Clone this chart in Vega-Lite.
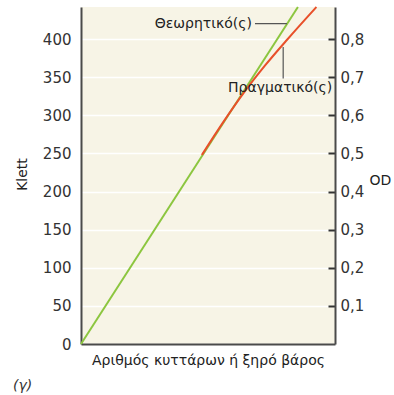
{
  "$schema": "https://vega.github.io/schema/vega-lite/v6.json",
  "autosize": "none",
  "width": 254,
  "height": 337,
  "padding": {"left": 81, "top": 7, "right": 59, "bottom": 51},
  "background": "white",
  "config": {
    "view": {"fill": "#f7f4e6", "stroke": null},
    "font": "DejaVu Sans",
    "axis": {"labelFont": "DejaVu Sans", "titleFont": "DejaVu Sans", "labelFontSize": 15, "titleFontSize": 14, "titleFontWeight": "normal", "labelColor": "#333", "titleColor": "#222", "domainColor": "#4a4a4a", "domainWidth": 2}
  },
  "title": {"text": "(γ)", "orient": "bottom", "anchor": "start", "frame": "group", "fontStyle": "italic", "fontWeight": "normal", "fontSize": 14, "font": "DejaVu Sans", "color": "#333", "dx": -68, "offset": 12},
  "datasets": {
    "theo": [{"n": 0, "klett": 0}, {"n": 85.4, "klett": 442}],
    "real": [{"n": 47.6, "klett": 248}, {"n": 55.8, "klett": 290}, {"n": 64.2, "klett": 330}, {"n": 72.4, "klett": 365}, {"n": 81.4, "klett": 400}, {"n": 92.7, "klett": 442}],
    "od": [{"n": 0, "od": 0}, {"n": 0, "od": 0.884}],
    "labelTheo": [{"n": 67.3, "klett": 419.7, "text": "Θεωρητικό(ς)"}],
    "labelReal": [{"n": 57.9, "klett": 335.7, "text": "Πραγματικό(ς)"}],
    "leaders": [{"n": 68.5, "n2": 81.1, "klett": 420.3, "klett2": 420.3}, {"n": 79.6, "n2": 79.6, "klett": 389.5, "klett2": 348.2}]
  },
  "layer": [
    {
      "layer": [
        {
          "data": {"name": "theo"},
          "mark": {"type": "line", "color": "#8cc63f", "strokeWidth": 2},
          "encoding": {
            "x": {"field": "n", "type": "quantitative", "scale": {"domain": [0, 100]}, "axis": {"title": "Αριθμός κυττάρων ή ξηρό βάρος", "labels": false, "ticks": false, "grid": false, "titlePadding": 9}},
            "y": {"field": "klett", "type": "quantitative", "scale": {"domain": [0, 442], "nice": false}, "axis": {"title": "Klett", "values": [0, 50, 100, 150, 200, 250, 300, 350, 400], "ticks": false, "labelPadding": 10, "grid": true, "gridColor": "white", "gridWidth": 1.5, "titleX": -59, "titleY": 167, "titleBaseline": "middle"}}
          }
        },
        {
          "data": {"name": "real"},
          "mark": {"type": "line", "color": "#e8502a", "strokeWidth": 2, "interpolate": "monotone"},
          "encoding": {"x": {"field": "n", "type": "quantitative"}, "y": {"field": "klett", "type": "quantitative"}}
        },
        {
          "data": {"name": "leaders"},
          "mark": {"type": "rule", "color": "#555", "strokeWidth": 1.2},
          "encoding": {"x": {"field": "n", "type": "quantitative"}, "x2": {"field": "n2"}, "y": {"field": "klett", "type": "quantitative"}, "y2": {"field": "klett2"}}
        },
        {
          "data": {"name": "labelTheo"},
          "mark": {"type": "text", "font": "DejaVu Sans", "fontSize": 14, "color": "#222", "baseline": "middle", "align": "right"},
          "encoding": {"x": {"field": "n", "type": "quantitative"}, "y": {"field": "klett", "type": "quantitative"}, "text": {"field": "text"}}
        },
        {
          "data": {"name": "labelReal"},
          "mark": {"type": "text", "font": "DejaVu Sans", "fontSize": 14, "color": "#222", "baseline": "middle", "align": "left"},
          "encoding": {"x": {"field": "n", "type": "quantitative"}, "y": {"field": "klett", "type": "quantitative"}, "text": {"field": "text"}}
        }
      ]
    },
    {
      "data": {"name": "od"},
      "mark": {"type": "point", "opacity": 0},
      "encoding": {
        "x": {"field": "n", "type": "quantitative"},
        "y": {"field": "od", "type": "quantitative", "scale": {"domain": [0, 0.884], "nice": false}, "axis": {"orient": "right", "title": "OD", "values": [0.1, 0.2, 0.3, 0.4, 0.5, 0.6, 0.7, 0.8], "labelExpr": "replace(format(datum.value, '.1f'), '.', ',')", "tickSize": -7, "tickWidth": 2, "tickColor": "#333", "labelPadding": 12, "grid": false, "titleAngle": 0, "titleX": 45, "titleY": 173, "titleAlign": "center", "titleBaseline": "middle"}}
      }
    }
  ],
  "resolve": {"scale": {"y": "independent"}}
}
